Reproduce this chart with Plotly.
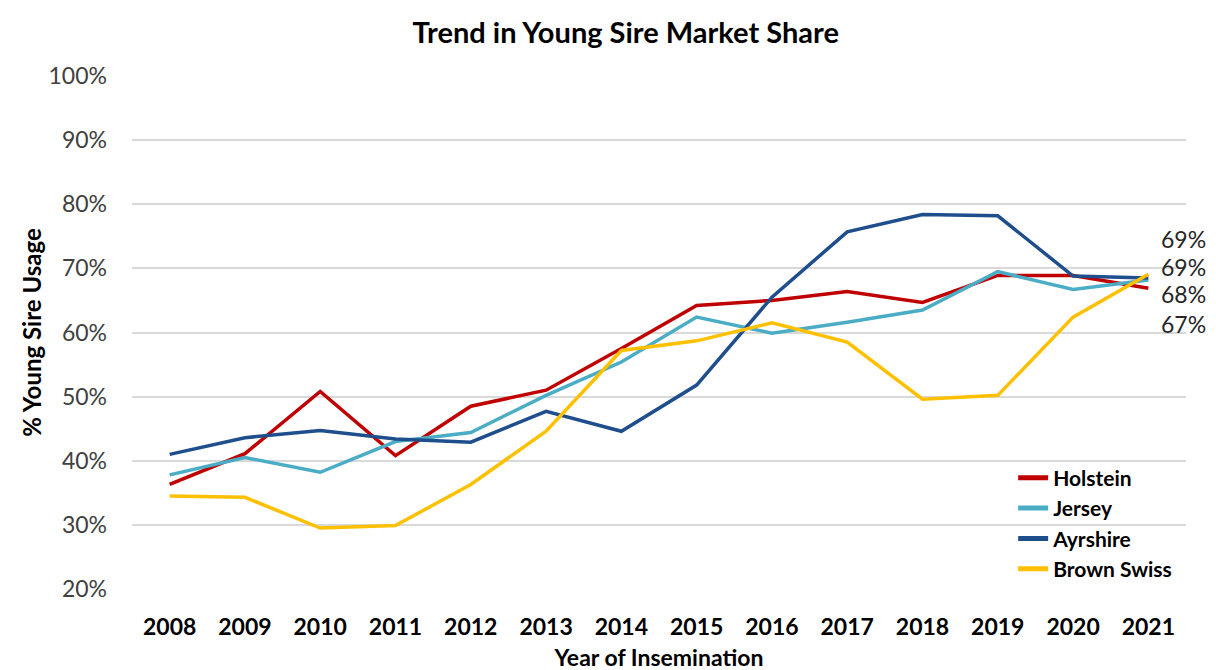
import plotly.graph_objects as go

years = ["2008", "2009", "2010", "2011", "2012", "2013", "2014",
         "2015", "2016", "2017", "2018", "2019", "2020", "2021"]

holstein = [36.3, 41.1, 50.8, 40.8, 48.5, 51.0, 57.5, 64.2, 65.0, 66.4, 64.7, 68.9, 68.9, 66.9]
jersey = [37.8, 40.5, 38.2, 43.0, 44.4, 50.2, 55.4, 62.4, 59.9, 61.6, 63.5, 69.5, 66.7, 68.2]
ayrshire = [41.0, 43.6, 44.7, 43.4, 42.9, 47.7, 44.6, 51.8, 65.5, 75.7, 78.4, 78.2, 68.8, 68.5]
brown_swiss = [34.5, 34.3, 29.5, 29.9, 36.3, 44.6, 57.2, 58.7, 61.5, 58.5, 49.6, 50.2, 62.4, 69.1]

series_names = ["Holstein", "Jersey", "Ayrshire", "Brown Swiss"]
series_values = [holstein, jersey, ayrshire, brown_swiss]
colors = ["#C00000", "#4BACC6", "#1F4E8C", "#FFC000"]

# end labels (text) and their vertical placement in data units
end_labels = ["69%", "69%", "68%", "67%"]
end_label_y = [74.6, 70.2, 66.0, 61.4]

FONT = "Lato"

fig = go.Figure()
for name, vals, col in zip(series_names, series_values, colors):
    fig.add_trace(go.Scatter(
        x=years, y=vals, mode="lines", name=name,
        line=dict(color=col, width=3.5),
    ))

for txt, yv in zip(end_labels, end_label_y):
    fig.add_annotation(
        x=1.0, xref="paper", xanchor="left", xshift=-27,
        y=yv, yref="y", yanchor="middle",
        text=txt, showarrow=False,
        font=dict(family=FONT, size=23, color="#262626"),
    )

fig.update_layout(
    width=1216, height=670,
    paper_bgcolor="white", plot_bgcolor="white",
    margin=dict(l=124, r=38, t=68, b=87),
    title=dict(
        text="<b>Trend in Young Sire Market Share</b>",
        x=0.508, xanchor="center", xref="container",
        y=0.963, yanchor="middle",
        font=dict(family=FONT, size=29, color="#000000"),
    ),
    showlegend=True,
    legend=dict(
        x=0.836, xanchor="left", y=0.256, yanchor="top",
        bgcolor="rgba(0,0,0,0)",
        font=dict(family=FONT, size=21, color="#000000", weight="bold"),
        tracegroupgap=0, itemsizing="constant",
    ),
    font=dict(family=FONT),
)

fig.update_xaxes(
    type="category", range=[-0.5, 13.5],
    showgrid=False, showline=False, zeroline=False, ticks="",
    ticklabelstandoff=22,
    tickfont=dict(family=FONT, size=23, color="#000000", weight="bold"),
    title=dict(text="<b>Year of Insemination</b>",
               font=dict(family=FONT, size=23, color="#000000"), standoff=10),
)
fig.update_yaxes(
    range=[20, 100], dtick=10, ticksuffix="%",
    showgrid=True, gridcolor="#D9D9D9", gridwidth=1.8,
    showline=False, zeroline=False, ticks="",
    ticklabelstandoff=24,
    tickfont=dict(family=FONT, size=23, color="#404040"),
    title=dict(text="<b>% Young Sire Usage</b>",
               font=dict(family=FONT, size=24, color="#000000"), standoff=0),
)

fig.write_html("out.html")
